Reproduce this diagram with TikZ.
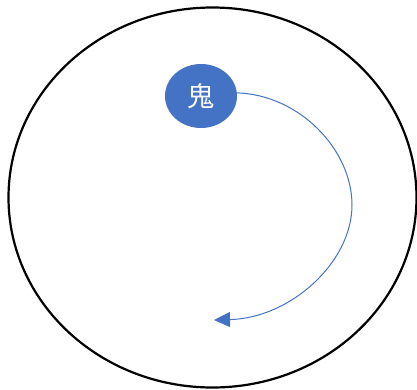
\documentclass[tikz,border=0pt]{standalone}
\usepackage{fontspec}
\newfontfamily\cjk{Noto Sans CJK JP}
\usetikzlibrary{arrows.meta,shapes.geometric}
\definecolor{oblue}{HTML}{4472C4}
\tikzset{
  outer/.style={draw=black,line width=2.2pt},
  ghost/.style={ellipse,fill=oblue,minimum width=72pt,minimum height=64pt,inner sep=0pt,text=white,font=\cjk\fontsize{27}{27}\selectfont},
  loop/.style={draw=oblue,line width=1pt,-{Triangle[length=16pt,width=15pt]}}
}
\begin{document}
\begin{tikzpicture}[x=1pt,y=-1pt]
\useasboundingbox (0,0) rectangle (417,389);
\node[ellipse,outer,minimum width=408pt,minimum height=380pt,inner sep=0pt] (field) at (212.5,197.5) {};
\node[ghost] (g) at (201,96) {鬼};
\coordinate (mid) at (352,205);
\coordinate (tip) at (214,320);
\draw[loop] (g.5) .. controls (300,95) and (352,150) .. (mid)
  .. controls (352,262) and (291,318) .. (tip);
\end{tikzpicture}
\end{document}
